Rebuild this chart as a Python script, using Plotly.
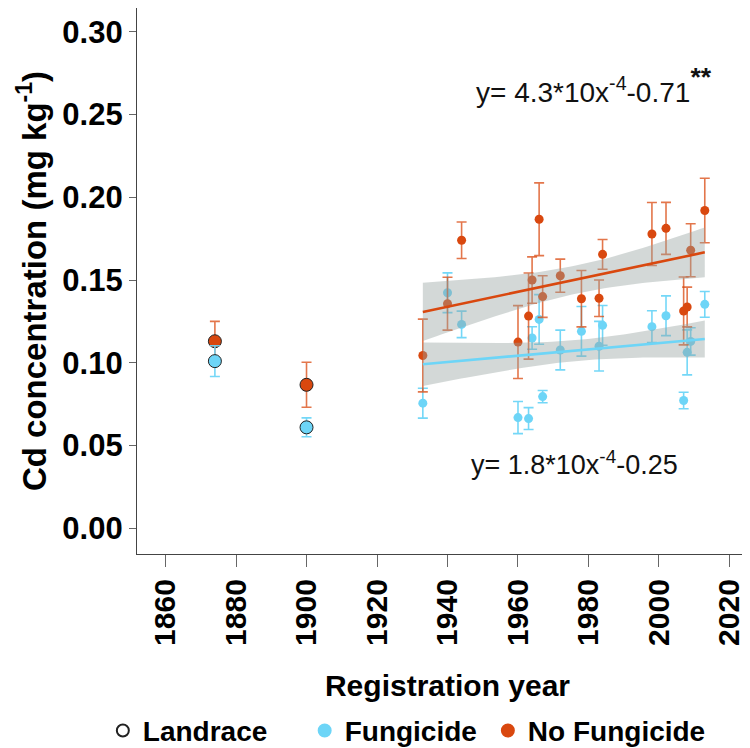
import numpy as np
import plotly.graph_objects as go

# ---------------- data ----------------
land_years = [1874, 1900]
land_fung = [0.101, 0.061]
land_fung_err = [0.0093, 0.0057]
land_nofung = [0.113, 0.0867]
land_nofung_err = [0.012, 0.0136]

years = [1933, 1940, 1944, 1960, 1963, 1964, 1966, 1967, 1972,
         1978, 1983, 1984, 1998, 2002, 2007, 2008, 2009, 2013]
nofung = [0.1044, 0.1357, 0.174, 0.1125, 0.1282, 0.150, 0.1867, 0.140, 0.1526,
          0.1387, 0.139, 0.1655, 0.1778, 0.1812, 0.1313, 0.1337, 0.168, 0.192]
nofung_err = [0.022, 0.016, 0.011, 0.022, 0.026, 0.014, 0.022, 0.0126, 0.010,
              0.017, 0.011, 0.009, 0.019, 0.0157, 0.0205, 0.012, 0.016, 0.0195]
fung = [0.0756, 0.1423, 0.1232, 0.0669, 0.0663, 0.115, 0.1262, 0.0796, 0.1077,
        0.119, 0.110, 0.1226, 0.1218, 0.1284, 0.0772, 0.1063, 0.1129, 0.1353]
fung_err = [0.009, 0.012, 0.008, 0.0097, 0.0066, 0.0068, 0.015, 0.0037, 0.012,
            0.015, 0.015, 0.012, 0.0096, 0.012, 0.005, 0.0136, 0.0083, 0.0078]

# half-width of the grey confidence band at the earliest year
band_hw_left_fung = 0.0131
band_hw_left_nofung = 0.0176

x_ticks = [1860, 1880, 1900, 1920, 1940, 1960, 1980, 2000, 2020]
y_ticks = [0.00, 0.05, 0.10, 0.15, 0.20, 0.25, 0.30]

ORANGE = "#D9480F"
ORANGE_ERR = "rgba(217,72,15,0.75)"
CYAN = "#6DD5F7"
CYAN_ERR = "rgba(109,213,247,0.95)"
BAND = "rgba(150,163,160,0.42)"
FONT = "Liberation Sans"
X_RANGE = [1851.9, 2028.1]
Y_RANGE = [-0.0155, 0.3143]


def lm_fit(x, y, hw_left, n_grid=60):
    x = np.asarray(x, float)
    y = np.asarray(y, float)
    b, a = np.polyfit(x, y, 1)
    xg = np.linspace(x.min(), x.max(), n_grid)
    yg = a + b * xg
    n = len(x)
    sxx = np.sum((x - x.mean()) ** 2)
    shape = np.sqrt(1.0 / n + (xg - x.mean()) ** 2 / sxx)
    hw = hw_left * shape / shape[0]
    return xg, yg, yg - hw, yg + hw


fig = go.Figure()

# modern cultivar points with error bars
fig.add_trace(go.Scatter(
    x=years, y=fung, mode="markers", showlegend=False,
    marker=dict(color=CYAN, size=9),
    error_y=dict(type="data", array=fung_err, color=CYAN_ERR, thickness=1.6, width=5)))
fig.add_trace(go.Scatter(
    x=years, y=nofung, mode="markers", showlegend=False,
    marker=dict(color=ORANGE, size=9),
    error_y=dict(type="data", array=nofung_err, color=ORANGE_ERR, thickness=1.6, width=5)))

# confidence bands (drawn above the points) and regression lines
fits = [lm_fit(years, fung, band_hw_left_fung), lm_fit(years, nofung, band_hw_left_nofung)]
for xg, yg, lo, hi in fits:
    fig.add_trace(go.Scatter(
        x=np.concatenate([xg, xg[::-1]]), y=np.concatenate([hi, lo[::-1]]),
        fill="toself", fillcolor=BAND, line=dict(width=0), mode="lines",
        showlegend=False, hoverinfo="skip"))
for (xg, yg, lo, hi), col in zip(fits, (CYAN, ORANGE)):
    fig.add_trace(go.Scatter(x=xg, y=yg, mode="lines", line=dict(color=col, width=2.6),
                             showlegend=False))

# landraces
fig.add_trace(go.Scatter(
    x=land_years, y=land_nofung, mode="markers", showlegend=False,
    marker=dict(color=ORANGE, size=13, line=dict(color="#222", width=1)),
    error_y=dict(type="data", array=land_nofung_err, color=ORANGE_ERR, thickness=1.6, width=5)))
fig.add_trace(go.Scatter(
    x=land_years, y=land_fung, mode="markers", showlegend=False,
    marker=dict(color=CYAN, size=13, line=dict(color="#222", width=1)),
    error_y=dict(type="data", array=land_fung_err, color=CYAN_ERR, thickness=1.6, width=5)))

# legend entries (one legend box per entry so each can be placed like the reference)
legend_items = [("Landrace", "white", "#222", "legend", -0.055),
                ("Fungicide", CYAN, CYAN, "legend2", 0.27),
                ("No Fungicide", ORANGE, ORANGE, "legend3", 0.565)]
legend_font = dict(family=FONT, size=28, color="black", weight="bold")
legend_layouts = {}
for name, col, lc, lg, lx in legend_items:
    fig.add_trace(go.Scatter(x=[None], y=[None], mode="markers", name=name, legend=lg,
                             marker=dict(color=col, size=12, line=dict(color=lc, width=1))))
    legend_layouts[lg] = dict(orientation="h", x=lx, xanchor="left", y=-0.278,
                              yanchor="top", yref="paper", font=legend_font,
                              itemsizing="constant", bgcolor="rgba(0,0,0,0)")

fig.add_annotation(x=1981.6, y=0.268, xref="x", yref="y", showarrow=False,
                   text="y= 4.3*10x<sup>-4</sup>-0.71<span style='font-size:38px'><sup><b>**</b></sup></span>",
                   font=dict(family=FONT, size=28, color="#111"))
fig.add_annotation(x=1976.0, y=0.0393, xref="x", yref="y", showarrow=False,
                   text="y= 1.8*10x<sup>-4</sup>-0.25",
                   font=dict(family=FONT, size=27, color="#111"))

fig.update_layout(
    width=750, height=748,
    margin=dict(l=129, r=0, t=0, b=194),
    plot_bgcolor="white", paper_bgcolor="white",
    font=dict(family=FONT, color="black"),
    # inner halves of the tick marks (ticks cross the axis lines)
    xaxis2=dict(overlaying="x", matches="x", range=X_RANGE, tickvals=x_ticks,
                ticks="inside", ticklen=6, tickcolor="#666", tickwidth=1.2,
                showticklabels=False, showgrid=False, zeroline=False, showline=False),
    yaxis2=dict(overlaying="y", matches="y", range=Y_RANGE, tickvals=y_ticks,
                ticks="inside", ticklen=4, tickcolor="#666", tickwidth=1.2,
                showticklabels=False, showgrid=False, zeroline=False, showline=False),
    **legend_layouts,
)
fig.layout.xaxis.update(range=X_RANGE, tickvals=x_ticks, tickangle=-90,
                        ticks="outside", ticklen=12, tickcolor="#666", tickwidth=1.2,
                        showline=True, linecolor="#444", linewidth=1.3, showgrid=False,
                        zeroline=False, ticklabeloverflow="allow",
                        tickfont=dict(family=FONT, size=30, color="black", weight="bold"),
                        title=dict(text="Registration year", standoff=30,
                                   font=dict(family=FONT, size=30, color="black", weight="bold")))
fig.layout.yaxis.update(range=Y_RANGE, tickvals=y_ticks, tickformat=".2f",
                        ticks="outside", ticklen=7, tickcolor="#666", tickwidth=1.2,
                        showline=True, linecolor="#444", linewidth=1.3, showgrid=False,
                        zeroline=False,
                        tickfont=dict(family=FONT, size=31, color="black", weight="bold"),
                        title=dict(text="Cd concentration (mg kg<sup>-1</sup>)", standoff=5,
                                   font=dict(family=FONT, size=33, color="black", weight="bold")))

fig.write_html("out.html")
